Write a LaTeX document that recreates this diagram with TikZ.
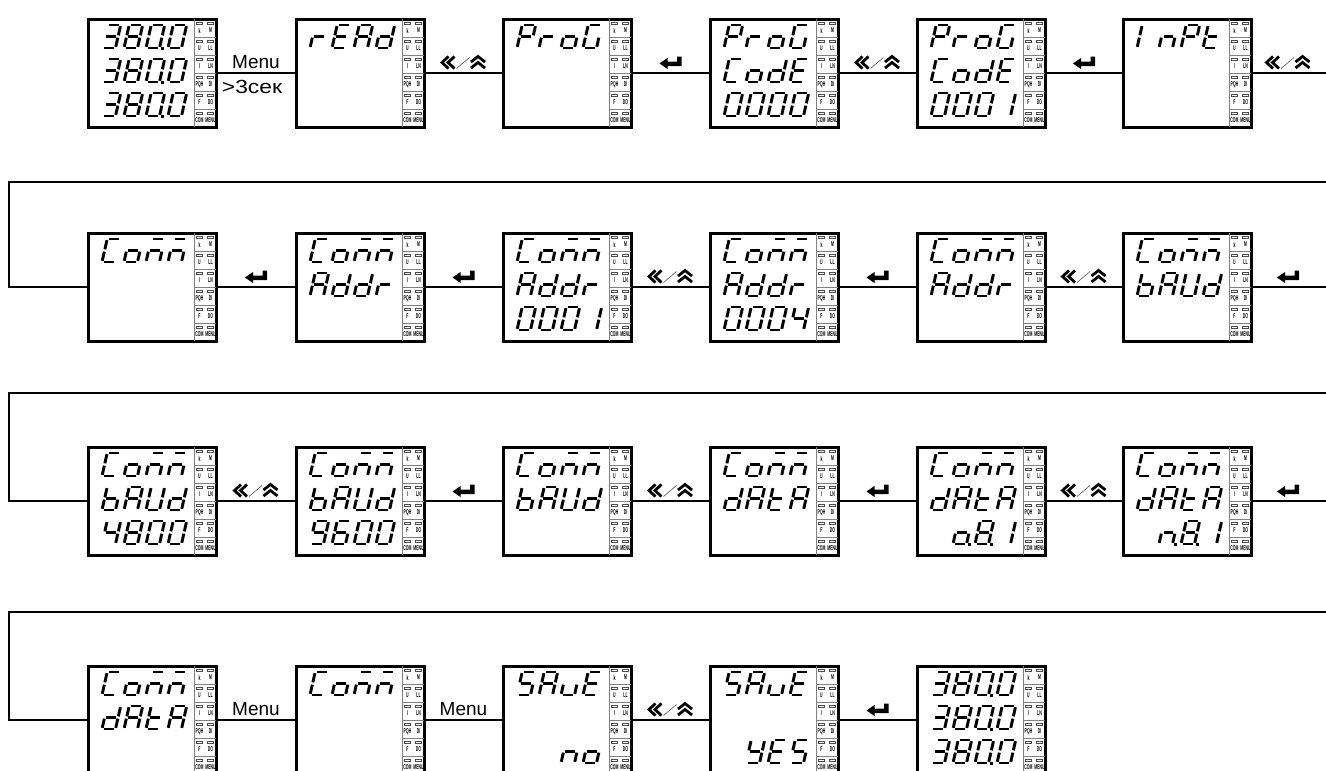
\documentclass[tikz,border=0pt]{standalone}
\usepackage{fontspec}
\setmainfont{Liberation Sans}
\newcount\dlpos
\newcommand\defseg[2]{\expandafter\def\csname sg#1\endcsname{#2}}
\defseg{0}{a,b,c,d,e,f}
\defseg{1}{b,c}
\defseg{3}{a,b,c,d,g}
\defseg{4}{b,c,f,g}
\defseg{6}{a,c,d,e,f,g}
\defseg{8}{a,b,c,d,e,f,g}
\defseg{9}{a,b,c,d,f,g}
\defseg{A}{a,b,c,e,f,g}
\defseg{b}{c,d,e,f,g}
\defseg{C}{a,d,e,f}
\defseg{d}{b,c,d,e,g}
\defseg{E}{a,d,e,f,g}
\defseg{G}{a,c,d,e,f}
\defseg{I}{e,f}
\defseg{m}{a,c,e,g}
\defseg{n}{c,e,g}
\defseg{o}{c,d,e,g}
\defseg{P}{a,b,e,f,g}
\defseg{r}{e,g}
\defseg{S}{a,c,d,f,g}
\defseg{t}{d,e,f,g}
\defseg{U}{b,c,d,e,f}
\defseg{u}{c,d,e}
\defseg{Y}{b,c,d,f,g}
\def\dl#1#2#3#4{\def\dlL{#1}\def\dlT{#2}\def\dlline{#3}\dlpos=0\relax\dlparse#4\relax}
\def\dlparse#1{\ifx#1\relax\else\dlchar#1\expandafter\dlparse\fi}
\def\dlchar#1{\if#1.\dldot\else\advance\dlpos by 1\relax\if#1-\else\dlglyph{#1}\fi\fi}
\def\dlglyph#1{%
  \pgfmathsetmacro\gx{\dlL+14+22*(\the\dlpos-1)}%
  \pgfmathsetmacro\gy{\dlT+29+34*(\dlline-1)}%
  \begin{scope}[shift={(\gx,\gy)},x={(13.5pt,0pt)},y={(2.6pt,11.5pt)}]
    \edef\seglist{\csname sg#1\endcsname}%
    \foreach \s in \seglist {\draw[segline,seg\s];}
  \end{scope}}
\def\dldot{%
  \pgfmathsetmacro\gx{\dlL+14+22*(\the\dlpos-1)+16.5}%
  \pgfmathsetmacro\gy{\dlT+29+34*(\dlline-1)}%
  \fill ({\gx-1.5},{\gy-1.5}) rectangle ({\gx+1.5},{\gy+1.5});}
\newcommand\indic[3]{%
  \draw[indline] ({#2+106},#3) -- ({#2+106},{#3+108});
  \foreach \k in {1,...,5} {\draw[indline] ({#2+106},{#3+18*\k}) -- ({#2+128},{#3+18*\k});}
  \foreach \k/\la/\lb in {0/k/M,1/U/LL,2/I/LN,3/PQH/DI,4/F/DO,5/COM/MENU} {
    \draw[ledrect] ({#2+108.5},{#3+18*\k+3}) rectangle ++(6,2);
    \draw[ledrect] ({#2+119},{#3+18*\k+3}) rectangle ++(6,2);
    \node[indlbl] (#1-a\k) at ({#2+111.5},{#3+18*\k+11.5}) {\scalebox{0.5}[1]{\la}};
    \node[indlbl] (#1-b\k) at ({#2+122.5},{#3+18*\k+11.5}) {\scalebox{0.5}[1]{\lb}};
  }}
\newcommand\scr[6]{%
  \node[screen] (#1) at ({#2+64},{#3+54}) {};
  \indic{#1}{#2}{#3}%
  \dl{#2}{#3}{1}{#4}\dl{#2}{#3}{2}{#5}\dl{#2}{#3}{3}{#6}}
\newcommand\nav[2]{%
  \begin{scope}[shift={(#1,{#2-10.5})}]
    \draw[symline] (-15,-6) -- (-21.5,0) -- (-15,6);
    \draw[symline] (-9,-6) -- (-15.5,0) -- (-9,6);
    \draw[line width=0.7pt, black!60] (-7,6) -- (6,-5);
    \draw[symline] (7.5,-0.5) -- (14.5,-6) -- (21.5,-0.5);
    \draw[symline] (7.5,5.5) -- (14.5,0) -- (21.5,5.5);
  \end{scope}}
\newcommand\ent[2]{%
  \begin{scope}[shift={(#1,{#2-11})}]
    \fill (-11,1.5) -- (-3,-4) -- (-3,-0.5) -- (6.5,-0.5) -- (6.5,-5.5) -- (11,-5.5)
      -- (11,4) -- (-3,4) -- (-3,7) -- cycle;
  \end{scope}}
\begin{document}
\begin{tikzpicture}[x=1pt,y=-1pt,
  screen/.style={draw,line width=3pt,minimum width=128pt,minimum height=108pt,inner sep=0pt},
  conn/.style={line width=2.6pt},
  segline/.style={line width=2.9pt},
  indline/.style={line width=0.6pt,black!50},
  ledrect/.style={line width=0.55pt,black!70},
  indlbl/.style={inner sep=0pt,font=\fontsize{7pt}{7pt}\selectfont\bfseries},
  steplbl/.style={inner sep=0pt,anchor=base},
  symline/.style={line width=2.8pt,line join=miter},
  sega/.style={insert path={(0.14,2)--(0.86,2)}},
  segb/.style={insert path={(1,1.9)--(1,1.1)}},
  segc/.style={insert path={(1,0.9)--(1,0.1)}},
  segd/.style={insert path={(0.14,0)--(0.86,0)}},
  sege/.style={insert path={(0,0.1)--(0,0.9)}},
  segf/.style={insert path={(0,1.1)--(0,1.9)}},
  segg/.style={insert path={(0.14,1)--(0.86,1)}}]
\useasboundingbox (0,0) rectangle (1326,771);
\clip (0,0) rectangle (1326,771);
% screens
\scr{r1c1}{88}{19}{380.0}{380.0}{380.0}
\scr{r1c2}{296}{19}{rEAd}{}{}
\scr{r1c3}{503}{19}{ProG}{}{}
\scr{r1c4}{710}{19}{ProG}{CodE}{0000}
\scr{r1c5}{917}{19}{ProG}{CodE}{0001}
\scr{r1c6}{1123}{19}{InPt}{}{}
\scr{r2c1}{88}{233}{Comm}{}{}
\scr{r2c2}{296}{233}{Comm}{Addr}{}
\scr{r2c3}{503}{233}{Comm}{Addr}{0001}
\scr{r2c4}{710}{233}{Comm}{Addr}{0004}
\scr{r2c5}{917}{233}{Comm}{Addr}{}
\scr{r2c6}{1123}{233}{Comm}{bAUd}{}
\scr{r3c1}{88}{447}{Comm}{bAUd}{4800}
\scr{r3c2}{296}{447}{Comm}{bAUd}{9600}
\scr{r3c3}{503}{447}{Comm}{bAUd}{}
\scr{r3c4}{710}{447}{Comm}{dAtA}{}
\scr{r3c5}{917}{447}{Comm}{dAtA}{-o.8.1}
\scr{r3c6}{1123}{447}{Comm}{dAtA}{-n.8.1}
\scr{r4c1}{88}{666}{Comm}{dAtA}{}
\scr{r4c2}{296}{666}{Comm}{}{}
\scr{r4c3}{503}{666}{SAuE}{}{--no}
\scr{r4c4}{710}{666}{SAuE}{}{-YES}
\scr{r4c5}{917}{666}{380.0}{380.0}{380.0}
% connectors
\foreach \r in {1,2,3}{
  \foreach \a/\b in {1/2,2/3,3/4,4/5,5/6}{\draw[conn] (r\r c\a.east) -- (r\r c\b.west);}}
\foreach \a/\b in {1/2,2/3,3/4,4/5}{\draw[conn] (r4c\a.east) -- (r4c\b.west);}
\coordinate (e1) at (1345,182); \coordinate (w1) at (9,182);
\coordinate (e2) at (1345,393); \coordinate (w2) at (9,393);
\coordinate (e3) at (1345,612); \coordinate (w3) at (9,612);
\draw[conn] (r1c6.east) -| (e1) -- (w1) |- (r2c1.west);
\draw[conn] (r2c6.east) -| (e2) -- (w2) |- (r3c1.west);
\draw[conn] (r3c6.east) -| (e3) -- (w3) |- (r4c1.west);
% labels and symbols
\node[steplbl] (m1) at (256,68) {\fontsize{19pt}{21pt}\selectfont Menu};
\node[steplbl] (m1b) at (252,93) {\fontsize{19pt}{21pt}\selectfont\scalebox{1.2}[1]{>3сек}};
\nav{463.5}{73}\ent{670.5}{73}\nav{877.5}{73}\ent{1084}{73}\nav{1288}{73}
\ent{256}{287}\ent{463.5}{287}\nav{670.5}{287}\ent{877.5}{287}\nav{1084}{287}\ent{1288}{287}
\nav{256}{501}\ent{463.5}{501}\nav{670.5}{501}\ent{877.5}{501}\nav{1084}{501}\ent{1288}{501}
\node[steplbl] (m2) at (256,715) {\fontsize{19pt}{21pt}\selectfont Menu};
\node[steplbl] (m3) at (463.5,715) {\fontsize{19pt}{21pt}\selectfont Menu};
\nav{670.5}{720}\ent{877.5}{720}
\end{tikzpicture}
\end{document}
